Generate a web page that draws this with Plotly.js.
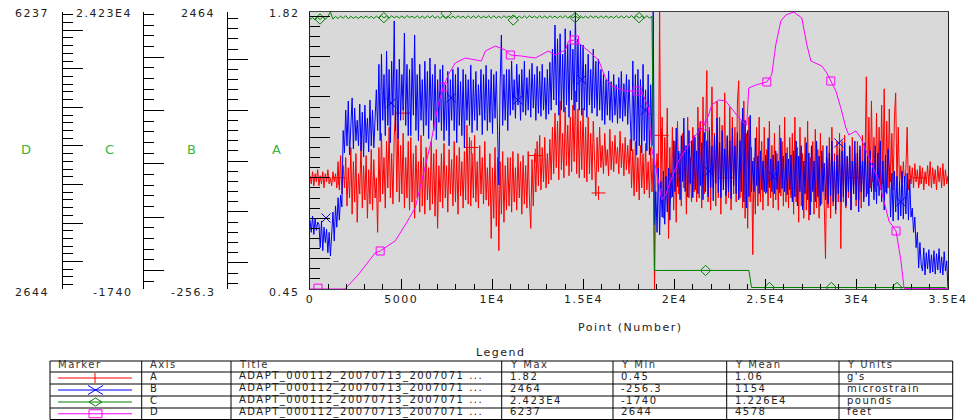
<!DOCTYPE html>
<html>
<head>
<meta charset="utf-8">
<script src="https://cdn.plot.ly/plotly-3.0.1.min.js"></script>
<style>
html, body { margin: 0; padding: 0; background: #ffffff; }
#chart { width: 980px; height: 420px; }
text { letter-spacing: 1.5px; }
</style>
</head>
<body>
<div id="chart"></div>
<script>
// Four channels recorded against point number (0 .. 35000)
const pointMax = 35000;

// A: acceleration, g's (evenly spaced samples over the record)
const seriesA = [
1.01,0.97,1.03,0.96,1.02,0.98,1.04,0.96,1.01,0.97,1.03,0.95,1.02,0.98,1.04,0.97,1.00,0.96,1.03,0.98,1.02,0.95,
1.08,0.94,1.11,0.92,1.06,0.95,
1.10,0.86,1.05,0.90,1.15,0.82,1.08,0.88,1.12,0.78,1.02,0.92,1.18,0.85,1.06,0.89,1.11,0.80,1.04,0.87,1.14,0.84,1.09,0.90,
1.00,0.73,
1.15,0.88,1.22,0.92,1.10,0.85,1.18,0.95,1.25,0.90,1.12,0.87,1.20,1.345,0.93,1.27,0.88,1.16,0.92,1.22,0.85,1.10,0.90,1.18,
0.84,1.20,0.88,1.12,0.80,1.16,0.90,1.08,0.83,1.21,0.86,1.10,0.82,1.15,0.89,1.05,0.84,1.18,0.87,1.12,0.81,1.14,0.75,1.06,0.88,
1.12,0.85,1.17,0.90,1.06,0.83,1.14,0.92,1.09,0.86,1.18,0.88,1.11,0.82,1.15,0.91,1.08,0.85,1.13,0.89,1.26,0.87,
1.20,0.86,1.12,0.90,1.21,0.88,1.08,0.85,1.16,0.92,1.10,0.87,1.18,0.89,1.05,0.86,
1.12,0.70,1.05,0.80,1.15,0.76,1.10,0.64,1.08,0.82,1.13,0.78,1.06,0.84,1.10,
0.86,1.10,0.83,1.13,0.88,1.05,0.84,1.12,0.90,1.08,0.82,1.11,0.87,1.06,0.85,1.13,0.89,0.75,1.09,0.86,1.12,
0.93,1.18,0.96,1.21,0.94,1.15,0.98,1.20,0.95,1.12,0.97,1.19,0.99,
1.25,1.02,1.32,1.05,1.28,0.99,1.38,1.04,1.22,1.00,1.35,1.06,1.26,1.01,1.30,1.03,1.36,1.08,1.43,1.02,1.34,1.00,1.28,
1.04,1.345,1.00,1.25,0.98,1.30,1.02,1.22,0.99,1.28,1.03,0.91,
1.20,1.03,1.25,1.05,1.16,1.02,1.22,1.06,1.14,1.01,1.24,1.04,1.18,1.03,1.21,1.07,1.15,1.02,1.23,1.05,1.17,1.01,1.20,1.04,1.16,1.02,1.19,
0.95,1.14,0.91,1.18,0.93,1.10,0.89,1.16,0.95,1.12,0.92,1.17,0.94,1.08,0.90,1.15,0.93,1.10,
0.45,1.00,1.12,0.96,1.82,
0.95,1.30,0.80,1.20,0.92,1.345,0.70,1.15,0.90,1.25,0.84,1.18,0.78,1.28,0.92,1.12,0.86,1.22,0.95,1.16,0.82,1.30,0.90,1.10,0.88,1.25,0.93,1.20,
0.88,1.35,0.90,1.28,0.85,1.40,0.92,1.30,1.53,0.88,1.25,0.84,1.45,0.95,1.22,0.86,1.38,0.90,1.30,0.82,1.26,0.94,1.42,0.87,1.20,0.90,1.35,0.84,1.30,0.92,1.25,0.88,1.38,1.48,0.90,1.28,
0.85,1.38,0.80,1.22,0.75,1.30,0.88,1.15,0.62,1.10,0.82,1.25,0.86,
1.30,0.88,1.18,0.84,1.25,0.92,1.14,0.86,1.28,0.90,1.16,0.85,1.22,0.89,1.12,0.84,1.26,0.91,1.18,0.86,1.30,0.88,1.15,0.85,1.20,0.90,
1.22,0.82,1.30,0.88,1.15,0.78,1.25,0.86,1.12,0.80,1.20,0.84,1.28,0.79,1.10,0.88,1.18,0.82,1.24,0.85,1.14,0.80,1.22,0.87,1.16,0.83,0.60,1.10,0.85,1.20,0.80,1.25,0.86,1.12,0.82,1.18,0.88,1.22,0.65,
1.18,0.88,1.21,0.85,1.10,0.90,1.15,0.84,1.20,0.92,1.12,0.86,1.18,0.89,1.14,0.85,1.21,0.90,1.10,
1.50,0.92,1.30,0.95,1.38,0.98,1.20,0.93,1.32,0.96,1.25,0.94,1.36,0.97,1.44,0.93,1.28,0.95,1.34,0.98,1.22,0.94,1.30,1.42,0.96,1.25,
0.97,1.06,0.95,1.08,0.96,1.04,1.25,0.94,1.06,0.97,1.05,0.95,1.07,0.98,1.04,0.95,1.06,0.97,1.05,0.94,1.03,0.97,1.06,0.96,1.08,0.95,1.05,0.97,1.04,0.94,1.06,0.98,1.05,0.95,1.07,0.96,1.04,0.97,1.01
];

// B: strain, microstrain (evenly spaced samples over the record)
const seriesB = [
420,300,460,280,440,320,400,
380,150,412,120,350,200,330,100,300,68,250,
500,215,560,350,640,420,667,550,
1300,1080,1500,1150,1590,1060,1450,1620,1120,1520,1200,1400,1150,1560,1100,1480,1040,1550,1180,1420,1090,1600,1150,1500,1130,1450,
1700,1300,1950,1200,2050,1400,1850,1250,2081,1350,1900,1180,1980,1450,2376,1300,1900,1220,2000,1400,1850,1500,2258,1350,1950,1250,
1900,1250,2010,1450,2238,1300,1850,1200,1950,1400,1800,1250,1980,1350,1880,1220,2012,1400,1850,1300,1950,1210,1800,1380,1900,
1300,1944,1200,1750,1300,1880,1150,1800,1400,1900,1300,1850,1180,1920,1350,1780,1250,1900,1130,1850,1400,1800,
1350,1944,1280,1800,1400,1880,1300,1750,1450,1900,1260,1850,1400,1940,1300,1800,1380,1900,1270,1850,1420,1880,1300,765,1750,2238,1350,1850,1400,1900,1300,
1900,1450,1983,1500,1800,1420,1950,1550,1850,1400,1900,1480,1980,1450,1820,1500,1900,1430,1960,1520,1850,1400,1930,1470,1880,1440,1950,1500,1820,1410,1900,1460,1970,1500,
2100,1600,2336,1550,2200,1450,2250,1500,2050,1480,2300,1550,2150,1430,2280,1600,2100,1500,2464,1580,2200,1500,2150,
1450,2140,1500,1950,1430,2050,1550,1900,1470,2100,1520,1980,1440,2000,1500,1900,
1400,1850,1360,1800,1450,1885,1400,1780,1380,1850,1450,1750,1370,1820,1420,1880,1390,1760,1440,1850,1360,1800,1420,
1100,1983,1200,1850,1060,1900,1150,1800,1080,1950,1200,1700,1100,1850,1060,1750,1150,
2464,373,
700,300,932,274,800,450,900,380,850,500,932,420,880,
650,1200,700,1325,750,1100,620,1250,800,1423,700,1150,650,1300,780,1200,640,1250,720,1100,
680,1325,760,1180,620,1280,700,1200,650,1300,740,1150,610,1250,780,1423,690,1180,640,1300,
720,1120,660,1250,700,1200,630,1325,760,1150,680,1280,620,1200,700,
1521,600,1400,539,1300,650,1450,700,
1000,700,1227,760,1050,680,1100,720,1000,700,1060,690,1227,740,1020,700,1060,680,1100,720,1000,690,1227,730,1050,700,1080,670,1020,720,1060,
600,1100,650,1197,560,1050,700,1150,520,1000,680,1180,620,1080,471,1150,700,1000,600,1197,
650,1050,560,1100,700,980,620,1150,580,1080,660,1197,600,1000,520,1060,680,1120,600,1100,
650,1180,560,1050,700,1150,520,1000,680,1197,620,1080,500,1150,700,1000,600,1180,650,1050,
560,1100,700,980,620,1150,580,1080,660,1197,600,1000,520,1060,680,1120,
932,450,880,412,900,500,850,420,800,460,900,430,850,480,880,420,820,450,
539,300,450,150,300,-50,200,-20,
-80,147,-119,100,-60,130,-100,80,-90,120,-110,90,-70,140,-100,60,-119,110,-80,20,-256.3
];

// C: load, pounds (evenly spaced samples over the record)
const seriesC = [
23550,23700,23480,23720,23520,23780,23560,23800,24230,23560,
23820,23620,23850,23650,23880,23600,23820,23640,23800,23620,
23840,23640,23860,23660,23820,23620,23840,23650,23880,23680,
23850,23650,23880,23680,23840,23660,23860,23640,23900,23700,
23840,23660,23880,23650,23850,23640,23870,23680,23900,23650,
23840,23620,23880,23660,23830,23650,23860,23640,23880,23680,
23840,23650,23880,23640,23860,23660,23900,23650,23840,23680,
23870,23640,23880,23660,23840,23650,23880,23680,23860,23640,
23880,23660,23840,23650,23870,23640,23900,23680,23840,23650,
23880,23660,23860,23640,23880,23680,23840,23650,23870,23660,
23900,23650,23860,23680,23880,23640,23870,23660,23840,23650,
23880,23680,23860,23640,23880,23650,23870,23660,23840,23640,
23880,23660,23870,23650,23860,23680,23900,23640,23870,23660,
23840,23650,23880,23660,23820,
0,0,0,0,0,0,0,0,0,0,0,0,0,0,0,0,0,0,0,0,
0,0,0,0,0,0,0,0,0,0,0,0,0,0,0,0,0,0,
-1600,-1600,-1600,-1600,-1600,-1600,-1600,-1600,-1600,-1600,
-1600,-1600,-1600,-1600,-1600,-1600,-1600,-1600,-1600,-1600,
-1600,-1600,-1600,-1600,-1600,-1600,-1600,-1600,-1600,-1600,
-1600,-1600,-1600,-1600,-1600,-1600,-1600,-1600,-1600,-1600,
-1600,-1600,-1600,-1600,-1600,-1600,-1600,-1600,-1600,-1600,
-1600,-1600,-1600,-1600,-1600,-1600,-1600,-1600,-1600,-1600,
-1600,-1600,-1600,-1600,-1600,-1600,-1600,-1600,-1600,-1600,
-1600,-1600,-1600,-1600,-1600,-1600,-1600,-1740
];

// D: altitude, feet (sampled at the points listed in seriesDPoints)
const seriesDPoints = [0,1920,2640,3570,3850,4670,5220,5770,6210,6650,7030,7310,7580,7970,8520,9400,9620,10170,10720,10990,11590,12360,13080,13460,14010,14180,14510,14890,15280,15830,16210,16540,17310,18190,18570,18740,19120,19290,19510,19840,20220,20770,21160,21600,21870,22040,22420,22800,23130,23410,23680,23960,24070,24450,25060,25330,25550,25830,26100,26540,26980,27260,27480,28080,28350,28570,28850,29120,29400,29560,29950,30220,30500,30830,31210,31600,31760,32150,32420,32590,35000];
const seriesD = [2644,2644,2826,3111,3137,3267,3474,3695,4123,4564,5031,5264,5420,5576,5640,5601,5731,5796,5744,5679,5666,5640,5731,5679,5744,5861,5874,5809,5731,5614,5381,5277,5212,5212,4992,4473,4045,3799,3864,4084,4305,4512,4642,4758,4901,5031,5096,5083,4992,4901,4823,4771,5251,5290,5329,5420,5809,6120,6198,6237,6159,5809,5601,5537,5446,5342,5212,4992,4733,4642,4694,4603,4434,4253,4045,3695,3526,3396,3007,2650,2650];

// marker samples on each channel
const markA_x = [1570,5110,8850,12360,15830,19290,22830,26370,29910,33450];
const markA_y = [1.00,1.32,1.15,1.11,0.925,1.21,1.00,0.95,1.00,1.00];
const markB_x = [880,4450,7750,11400,14900,18400,21900,25400,29010,32400];
const markB_y = [441,1570,1620,1600,1800,1500,900,850,1178,600];
const markC_x = [550,4050,7470,11150,14550,18050,21700,25200,28600,32200];
const markC_y = [23575,23700,24100,23480,23700,23700,0,-1600,-1600,-1600];
const markD_x = [440,3850,7310,10990,14510,17950,21600,25060,28570,32150];
const markD_y = [2655,3137,5264,5679,5874,5212,4758,5329,5342,3396];

// axis names, ranges and x tick labels
const axisNames = ['A','B','C','D'];
const axisMax = [1.82, 2464, 24230, 6237];
const axisMin = [0.45, -256.3, -1740, 2644];
const axisMaxText = ['1.82','2464','2.423E4','6237'];
const axisMinText = ['0.45','-256.3','-1740','2644'];
const xTickVals = [0,5000,10000,15000,20000,25000,30000,35000];
const xTickText = ['0','5000','1E4','1.5E4','2E4','2.5E4','3E4','3.5E4'];

// legend table contents
const tableHeader = ['Marker','Axis','Title','Y Max','Y Min','Y Mean','Y Units'];
const channelTitle = ['ADAPT_000112_20070713_2007071 ...','ADAPT_000112_20070713_2007071 ...','ADAPT_000112_20070713_2007071 ...','ADAPT_000112_20070713_2007071 ...'];
const channelYMax = ['1.82','2464','2.423E4','6237'];
const channelYMin = ['0.45','-256.3','-1740','2644'];
const channelYMean = ['1.06','1154','1.226E4','4578'];
const channelUnits = ["g's",'microstrain','pounds','feet'];

const colors = ['#ff0000','#0000ff','#008000','#ff00ff'];
const FONT = 'DejaVu Sans, Liberation Sans, Arial, sans-serif';
const W = 980, H = 420;
const px = v => v / W;
const py = v => 1 - v / H;

const gridX = arr => arr.map((_, i) => i * pointMax / (arr.length - 1));

function range(from, to, step) {
  const out = [];
  for (let v = from; v <= to + step * 1e-6; v += step) out.push(+v.toFixed(6));
  return out;
}

const traces = [
  {x: gridX(seriesA), y: seriesA, yaxis: 'y', mode: 'lines', line: {color: colors[0], width: 1}},
  {x: gridX(seriesB), y: seriesB, yaxis: 'y2', mode: 'lines', line: {color: colors[1], width: 1}},
  {x: gridX(seriesC), y: seriesC, yaxis: 'y3', mode: 'lines', line: {color: colors[2], width: 1}},
  {x: seriesDPoints, y: seriesD, yaxis: 'y4', mode: 'lines', line: {color: colors[3], width: 1}},
  {x: markA_x, y: markA_y, yaxis: 'y', mode: 'markers', marker: {symbol: 'cross-thin-open', size: 10, color: colors[0], line: {color: colors[0], width: 1}}},
  {x: markB_x, y: markB_y, yaxis: 'y2', mode: 'markers', marker: {symbol: 'x-thin-open', size: 9, color: colors[1], line: {color: colors[1], width: 1}}},
  {x: markC_x, y: markC_y, yaxis: 'y3', mode: 'markers', marker: {symbol: 'diamond-open', size: 8, color: colors[2], line: {width: 1}}},
  {x: markD_x, y: markD_y, yaxis: 'y4', mode: 'markers', marker: {symbol: 'square-open', size: 8, color: colors[3], line: {width: 1}}}
];

const plotLeft = 310, plotRight = 948, plotTop = 12, plotBottom = 289;
const yDomain = [py(plotBottom), py(plotTop)];

function sideAxis(pos, lo, hi, major, minor) {
  const majors = range(Math.ceil(lo / major) * major, hi, major);
  const minors = range(Math.ceil(lo / minor) * minor, hi, minor).concat([lo, hi]);
  return {
    overlaying: 'y', anchor: 'free', position: px(pos), side: 'left',
    range: [lo, hi], showgrid: false, zeroline: false,
    showline: true, linecolor: '#000', linewidth: 1,
    ticks: 'inside', tickmode: 'array', tickvals: majors, ticklen: 20, tickcolor: '#000', tickwidth: 1,
    showticklabels: false,
    minor: {tickmode: 'array', tickvals: minors, ticks: 'inside', ticklen: 10, tickcolor: '#000', tickwidth: 1}
  };
}

const annotations = [];
function note(text, x, y, anchor, size, color) {
  annotations.push({text: text, x: px(x), y: py(y), xref: 'paper', yref: 'paper',
    xanchor: anchor, yanchor: 'middle', showarrow: false,
    font: {family: FONT, size: size, color: color || '#222'}});
}

// range end labels and axis letters for the stacked axes
const axisLabelRight = [302, 217, 134, 51];
const axisLetterX = [277, 192, 110, 27];
for (let k = 0; k < 4; k++) {
  note(axisMaxText[k], axisLabelRight[k], 13, 'right', 11);
  note(axisMinText[k], axisLabelRight[k], 292, 'right', 11);
  note(axisNames[k], axisLetterX[k], 149, 'center', 13, '#3cb43c');
}
note('Point (Number)', 630, 327, 'center', 11);
note('Legend', 500, 352, 'center', 11);

// legend table grid
const shapes = [];
const tableCols = [50, 141.7, 231, 501.7, 613, 726.7, 839, 952.7];
const tableRows = [361, 372, 384, 396, 408, 419.5];
function seg(x0, y0, x1, y1, color, width) {
  shapes.push({type: 'line', xref: 'paper', yref: 'paper', x0: px(x0), y0: py(y0), x1: px(x1), y1: py(y1),
    line: {color: color, width: width || 1}});
}
tableRows.forEach(r => seg(tableCols[0], r, tableCols[tableCols.length - 1], r, '#000'));
tableCols.forEach(c => seg(c, tableRows[0], c, tableRows[tableRows.length - 1], '#000'));

const rowMid = i => (tableRows[i] + tableRows[i + 1]) / 2;
const textLift = 1.8;
tableHeader.forEach((h, j) => note(h, tableCols[j] + 6, rowMid(0) - textLift, 'left', 10, '#333'));
for (let k = 0; k < 4; k++) {
  const cy = rowMid(k + 1);
  const cells = [axisNames[k], channelTitle[k], channelYMax[k], channelYMin[k], channelYMean[k], channelUnits[k]];
  cells.forEach((t, j) => note(t, tableCols[j + 1] + 6, cy - textLift, 'left', 10, '#222'));
  // marker swatch
  const c = colors[k];
  seg(58, cy, 132, cy, c, 1);
  if (k === 0) {
    seg(95, cy - 5, 95, cy + 5, c, 1);
  } else if (k === 1) {
    seg(88, cy - 4.5, 103, cy + 4.5, c, 1);
    seg(88, cy + 4.5, 103, cy - 4.5, c, 1);
  } else if (k === 2) {
    const path = 'M ' + px(89) + ' ' + py(cy) + ' L ' + px(95.5) + ' ' + py(cy - 4) +
      ' L ' + px(102) + ' ' + py(cy) + ' L ' + px(95.5) + ' ' + py(cy + 4) + ' Z';
    shapes.push({type: 'path', xref: 'paper', yref: 'paper', path: path, line: {color: c, width: 1}});
  } else {
    shapes.push({type: 'rect', xref: 'paper', yref: 'paper', x0: px(89), x1: px(102), y0: py(cy + 4), y1: py(cy - 4),
      line: {color: c, width: 1}});
  }
}

const layout = {
  width: W, height: H, autosize: false,
  margin: {l: 0, r: 0, t: 0, b: 0, pad: 0},
  paper_bgcolor: '#ffffff', plot_bgcolor: '#d9d9d9',
  showlegend: false,
  font: {family: FONT, size: 11, color: '#222'},
  xaxis: {
    domain: [px(plotLeft), px(plotRight)], range: [0, pointMax],
    showgrid: false, zeroline: false,
    showline: true, linecolor: '#404040', linewidth: 1, mirror: true,
    ticks: 'inside', tickmode: 'array', tickvals: xTickVals, ticktext: xTickText,
    ticklen: 10, tickcolor: '#000', tickwidth: 1,
    tickfont: {family: FONT, size: 11, color: '#222'},
    minor: {dtick: 1000, ticks: 'inside', ticklen: 5, tickcolor: '#000', tickwidth: 1}
  },
  yaxis: {
    domain: yDomain, range: [axisMin[0], axisMax[0]],
    showgrid: false, zeroline: false,
    showline: true, linecolor: '#202020', linewidth: 1, mirror: true,
    ticks: 'inside', tickmode: 'array', tickvals: range(0.6, 1.8, 0.2), ticklen: 20, tickcolor: '#000', tickwidth: 1,
    showticklabels: false,
    minor: {tickmode: 'array', tickvals: range(0.5, 1.8, 0.05), ticks: 'inside', ticklen: 10, tickcolor: '#000', tickwidth: 1}
  },
  yaxis2: sideAxis(227, axisMin[1], axisMax[1], 500, 100),
  yaxis3: sideAxis(143, axisMin[2], axisMax[2], 5000, 1000),
  yaxis4: sideAxis(62, axisMin[3], axisMax[3], 500, 100),
  annotations: annotations,
  shapes: shapes
};

Plotly.newPlot('chart', traces, layout, {displayModeBar: false, staticPlot: true});
</script>
</body>
</html>
